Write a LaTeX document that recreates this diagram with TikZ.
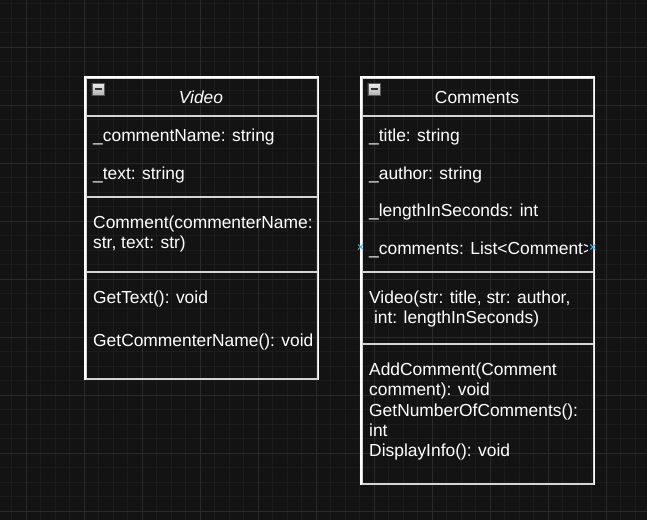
\documentclass[tikz,border=0pt]{standalone}
\usepackage{fontspec}
\setmainfont{Liberation Sans}
\usetikzlibrary{shapes.misc}
\definecolor{bg}{HTML}{131313}
\definecolor{gminor}{HTML}{1C1C1C}
\definecolor{gmajor}{HTML}{2A2A2A}
\definecolor{divgray}{HTML}{D4D4D4}
\definecolor{xblue}{HTML}{3DB4EC}
\newcommand{\umlfs}{\fontsize{17.4}{20.3}\selectfont}
\begin{document}
\begin{tikzpicture}[x=1pt,y=-1pt,
  sect/.style={draw=divgray, line width=1.5pt, minimum width=232pt, anchor=north west, inner sep=0pt},
  txt/.style={text=white, anchor=base west, inner sep=0pt, font=\umlfs},
  title/.style={text=white, anchor=base, inner sep=0pt, font=\umlfs},
  xmark/.style={cross out, draw=xblue, line width=1pt, minimum size=4pt, inner sep=0pt},
  icon/.style={draw=gray!70!black, line width=0.5pt, top color=gray!15, bottom color=gray!60, minimum size=12pt, inner sep=0pt, anchor=north west}]
\useasboundingbox (0,0) rectangle (647,520);
\fill[bg] (0,0) rectangle (647,520);
% grid
\foreach \k in {0,...,44} \draw[gminor, line width=0.8pt] ({11.5+14.5*\k},0) -- ({11.5+14.5*\k},520);
\foreach \k in {0,...,35} \draw[gminor, line width=0.8pt] (0,{3.8+14.5*\k}) -- (647,{3.8+14.5*\k});
\foreach \k in {0,...,10} \draw[gmajor, line width=1pt] ({26+58*\k},0) -- ({26+58*\k},520);
\foreach \k in {0,...,8} \draw[gmajor, line width=1pt] (0,{47.3+58*\k}) -- (647,{47.3+58*\k});

% ---------- Video class ----------
\node[sect, minimum height=38pt] (vHead) at (85,77) {};
\node[sect, minimum height=81pt] (vAttr) at (85,115) {};
\node[sect, minimum height=75pt] (vCtor) at (85,196) {};
\node[sect, minimum height=107pt] (vMeth) at (85,271) {};
\draw[white, line width=1.5pt] (vMeth.south west) -- (vHead.north west) -- (vHead.north east) -- (vMeth.south east);
\node[icon] (vIcon) at (91.5,83) {};
\draw[black!80, line width=1.8pt] (94.5,89) -- (101.5,89);
\node[title, font=\umlfs\itshape] (vTitle) at (201,103.3) {Video};
\begin{scope}
\clip (85,77) rectangle (311.3,378);
\node[txt] (vA1) at (93,141.5) {\_commentName: string};
\node[txt] (vA2) at (93,179.2) {\_text: string};
\node[txt] (vC1) at (93,228.3) {Comment(commenterName:};
\node[txt] (vC2) at (93,248.3) {str, text: str)};
\node[txt] (vM1) at (93,303.3) {GetText(): void};
\node[txt] (vM2) at (93,346.7) {GetCommenterName(): void};
\end{scope}

% ---------- Comments class ----------
\node[sect, minimum height=38pt] (cHead) at (361,77) {};
\node[sect, minimum height=156pt] (cAttr) at (361,115) {};
\node[sect, minimum height=72pt] (cCtor) at (361,271) {};
\node[sect, minimum height=140pt] (cMeth) at (361,343) {};
\draw[white, line width=1.5pt] (cMeth.south west) -- (cHead.north west) -- (cHead.north east) -- (cMeth.south east);
\node[icon] (cIcon) at (367.5,83) {};
\draw[black!80, line width=1.8pt] (370.5,89) -- (377.5,89);
\node[title] (cTitle) at (477,103.3) {Comments};
\begin{scope}
\clip (361,77) rectangle (587.8,483);
\node[txt] (cA1) at (369,141.5) {\_title: string};
\node[txt] (cA2) at (369,179.2) {\_author: string};
\node[txt] (cA3) at (369,216.9) {\_lengthInSeconds: int};
\node[txt] (cA4) at (369,254.4) {\_comments: List<Comment>};
\node[txt] (cC1) at (369,303.3) {Video(str: title, str: author,};
\node[txt] (cC2) at (369,323.3) {\hspace*{4.8pt}int: lengthInSeconds)};
\node[txt] (cM1) at (369,375.7) {AddComment(Comment};
\node[txt] (cM2) at (369,395.9) {comment): void};
\node[txt] (cM3) at (369,416.1) {GetNumberOfComments():};
\node[txt] (cM4) at (369,436.3) {int};
\node[txt] (cM5) at (369,456.5) {DisplayInfo(): void};
\end{scope}
\node[xmark] (mkL) at (360.5,247) {};
\node[xmark] (mkR) at (592.8,247) {};
\end{tikzpicture}
\end{document}
